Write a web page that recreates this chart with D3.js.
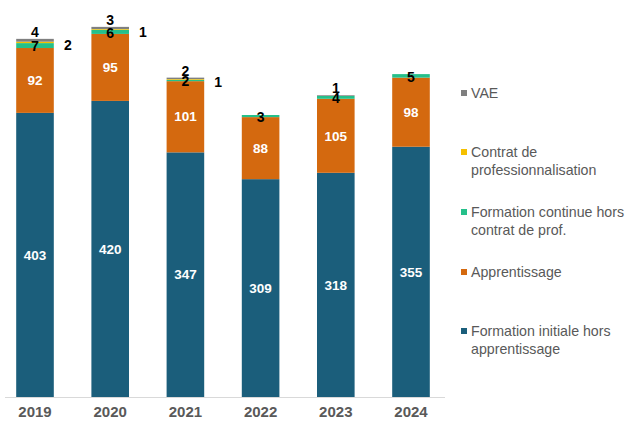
<!DOCTYPE html>
<html>
<head>
<meta charset="utf-8">
<script src="https://cdn.jsdelivr.net/npm/d3@7"></script>
<style>
  body { margin: 0; background: #fff; }
  text { font-family: "Liberation Sans", Arial, sans-serif; }
</style>
</head>
<body>
<div class="canvas"></div>
<script>
const years = ['2019', '2020', '2021', '2022', '2023', '2024']
const initiale = [403, 420, 347, 309, 318, 355]
const apprentissage = [92, 95, 101, 88, 105, 98]
const continue_ = [7, 6, 2, 3, 4, 5]
const contrat = [2, 1, 1, 0, 0, 0]
const vae = [4, 3, 2, 0, 1, 0]

const seriesNames = ['Formation initiale hors apprentissage', 'Apprentissage',
  'Formation continue hors contrat de prof.', 'Contrat de professionnalisation', 'VAE']
const colours = ['#1b5e7b', '#d4690f', '#25c08a', '#f5c000', '#7f7f7f']

const dims = {width: 627, height: 423}
const baseY = 397

const svg = d3.select('.canvas')
  .append('svg')
  .attr('width', dims.width)
  .attr('height', dims.height)

// rows for stacking
const rows = years.map((y, i) => ({
  year: y, s0: initiale[i], s1: apprentissage[i], s2: continue_[i], s3: contrat[i], s4: vae[i]
}))
const keys = ['s0', 's1', 's2', 's3', 's4']
const stack = d3.stack().keys(keys)(rows)

const x = d3.scaleBand()
  .domain(years)
  .range([-2.6, 448.6])
  .paddingInner(0.5)
  .paddingOuter(0.25)

const y = d3.scaleLinear()
  .domain([0, 100])
  .range([baseY, baseY - 70.5])

// bars
const layers = svg.selectAll('g.layer')
  .data(stack)
  .enter().append('g')
  .attr('fill', (d, i) => colours[i])

layers.selectAll('rect')
  .data(d => d)
  .enter().append('rect')
  .attr('x', d => x(d.data.year))
  .attr('width', x.bandwidth())
  .attr('y', d => y(d[1]))
  .attr('height', d => y(d[0]) - y(d[1]))

// axis line
svg.append('line')
  .attr('x1', 5).attr('x2', 445)
  .attr('y1', baseY + 0.5).attr('y2', baseY + 0.5)
  .attr('stroke', '#d9d9d9')

// year labels
const xAxis = d3.axisBottom(x).tickSize(0).tickPadding(9)
const axisG = svg.append('g')
  .attr('transform', `translate(0, ${baseY})`)
  .call(xAxis)
axisG.select('.domain').remove()
axisG.selectAll('text')
  .attr('font-size', 15)
  .attr('font-weight', 'bold')
  .attr('fill', '#595959')
  .attr('font-family', '"Liberation Sans", Arial, sans-serif')

// white labels inside big segments
stack.slice(0, 2).forEach(layer => {
  svg.selectAll(null)
    .data(layer)
    .enter().append('text')
    .attr('x', d => x(d.data.year) + x.bandwidth() / 2)
    .attr('y', d => (y(d[0]) + y(d[1])) / 2)
    .attr('dy', '0.35em')
    .attr('text-anchor', 'middle')
    .attr('fill', '#fff')
    .attr('font-weight', 'bold')
    .attr('font-size', 13.5)
    .text(d => d[1] - d[0])
})

const blackLabel = (sel) => sel
  .attr('dy', '0.35em')
  .attr('fill', '#000')
  .attr('font-weight', 'bold')
  .attr('font-size', 14)

// formation continue: centered in segment
svg.selectAll(null)
  .data(stack[2].filter(d => d[1] - d[0] > 0))
  .enter().append('text')
  .attr('x', d => x(d.data.year) + x.bandwidth() / 2)
  .attr('y', d => (y(d[0]) + y(d[1])) / 2 + 1)
  .attr('text-anchor', 'middle')
  .call(blackLabel)
  .text(d => d[1] - d[0])

// contrat de pro: right of bar
svg.selectAll(null)
  .data(stack[3].filter(d => d[1] - d[0] > 0))
  .enter().append('text')
  .attr('x', d => x(d.data.year) + x.bandwidth() + 14)
  .attr('y', d => (y(d[0]) + y(d[1])) / 2 + 3)
  .attr('text-anchor', 'middle')
  .call(blackLabel)
  .text(d => d[1] - d[0])

// VAE: above bar
svg.selectAll(null)
  .data(stack[4].filter(d => d[1] - d[0] > 0))
  .enter().append('text')
  .attr('x', d => x(d.data.year) + x.bandwidth() / 2)
  .attr('y', d => y(d[1]) - 7)
  .attr('text-anchor', 'middle')
  .call(blackLabel)
  .text(d => d[1] - d[0])

// legend, top item = VAE
const legendItems = [
  {i: 4, lines: ['VAE'], y: 93},
  {i: 3, lines: ['Contrat de', 'professionnalisation'], y: 152},
  {i: 2, lines: ['Formation continue hors', 'contrat de prof.'], y: 212},
  {i: 1, lines: ['Apprentissage'], y: 272},
  {i: 0, lines: ['Formation initiale hors', 'apprentissage'], y: 331}
]
const legend = svg.append('g')
legendItems.forEach(item => {
  legend.append('rect')
    .attr('x', 461).attr('y', item.y - 3)
    .attr('width', 6).attr('height', 6)
    .attr('fill', colours[item.i])
  item.lines.forEach((line, k) => {
    legend.append('text')
      .attr('x', 471)
      .attr('y', item.y + k * 18)
      .attr('dy', '0.35em')
      .attr('font-size', 14.2)
      .attr('fill', '#595959')
      .text(line)
  })
})
</script>
</body>
</html>
